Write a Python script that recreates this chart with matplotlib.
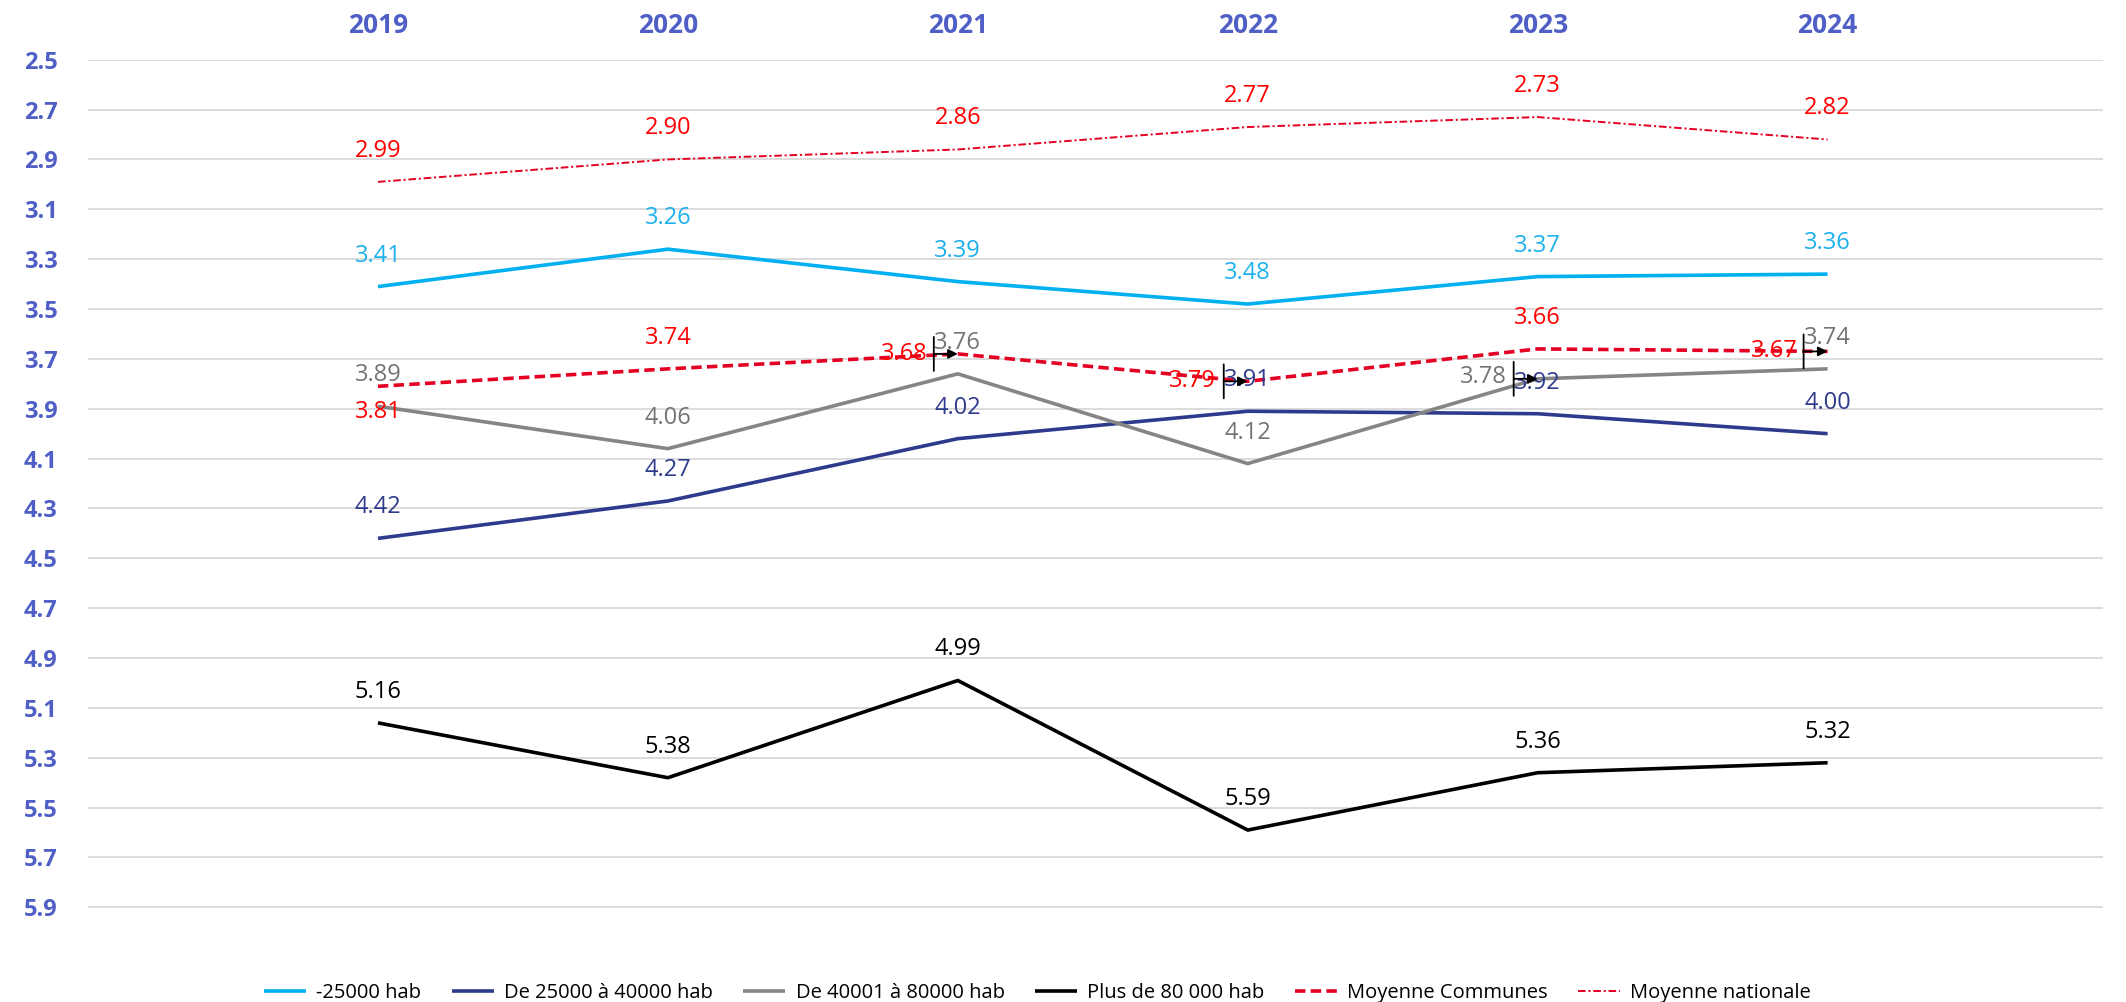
import matplotlib
matplotlib.use('Agg')
import matplotlib.pyplot as plt
from matplotlib.transforms import offset_copy

plt.rcParams['font.family'] = ['Open Sans', 'DejaVu Sans']
plt.rcParams['lines.scale_dashes'] = False

years = ['2019', '2020', '2021', '2022', '2023', '2024']
moins_25000 = [3.41, 3.26, 3.39, 3.48, 3.37, 3.36]
de_25000_40000 = [4.42, 4.27, 4.02, 3.91, 3.92, 4.00]
de_40001_80000 = [3.89, 4.06, 3.76, 4.12, 3.78, 3.74]
plus_80000 = [5.16, 5.38, 4.99, 5.59, 5.36, 5.32]
moyenne_communes = [3.81, 3.74, 3.68, 3.79, 3.66, 3.67]
moyenne_nationale = [2.99, 2.90, 2.86, 2.77, 2.73, 2.82]
y_ticks = [2.5, 2.7, 2.9, 3.1, 3.3, 3.5, 3.7, 3.9, 4.1, 4.3, 4.5, 4.7, 4.9, 5.1, 5.3, 5.5, 5.7, 5.9]

series = [
    ('-25000 hab', moins_25000, dict(color='#00B0F0', lw=2.6), '#1CB0EC'),
    ('De 25000 à 40000 hab', de_25000_40000, dict(color='#2E3B8C', lw=2.6), '#2E3B8C'),
    ('De 40001 à 80000 hab', de_40001_80000, dict(color='#858585', lw=2.6), '#737373'),
    ('Plus de 80 000 hab', plus_80000, dict(color='#000000', lw=2.6), '#000000'),
    ('Moyenne Communes', moyenne_communes, dict(color='#E30022', lw=2.6, dashes=(7.5, 3.8)), '#FF0000'),
    ('Moyenne nationale', moyenne_nationale, dict(color='#E30022', lw=1.4, dashes=(5.5, 2.0, 1.5, 2.0)), '#FF0000'),
]

# label offsets in pixels (default: centred above the point)
special = {
    ('Moyenne Communes', 0): (0, -26, False),
    ('Moyenne Communes', 2): (-53, 0, True),
    ('Moyenne Communes', 3): (-55, 0, True),
    ('De 40001 à 80000 hab', 4): (-54, 2, True),
    ('Moyenne Communes', 5): (-53, 0, True),
}

tick_color = '#4F5FC6'

fig = plt.figure(figsize=(21.26, 10.02), dpi=100)
ax = fig.add_axes([0.0414, 0.0447, 0.9478, 0.8957])
x = list(range(len(years)))

for name, vals, style, lc in series:
    ax.plot(x, vals, label=name, solid_capstyle='butt', **style)

ax.set_xlim(-1.0, 5.95)
ax.set_ylim(6.1, 2.5)
ax.set_yticks(y_ticks)
ax.set_yticklabels([f'{v:.1f}' for v in y_ticks])
ax.set_xticks(x)
ax.set_xticklabels(years)
ax.xaxis.tick_top()
ax.tick_params(axis='both', length=0)
ax.tick_params(axis='y', pad=22, labelsize=17, labelcolor=tick_color)
ax.tick_params(axis='x', pad=15, labelsize=19, labelcolor=tick_color)
for lab in ax.get_xticklabels() + ax.get_yticklabels():
    lab.set_fontweight('bold')
for sp in ax.spines.values():
    sp.set_visible(False)
ax.grid(axis='y', color='#DCDCDC', lw=1.4)
ax.set_axisbelow(True)

for name, vals, style, lc in series:
    for i, v in enumerate(vals):
        dx, dy, leader = special.get((name, i), (0, 31, False))
        ax.annotate(f'{v:.2f}', xy=(i, v), xytext=(dx, dy), textcoords='offset pixels',
                    ha='center', va='center', fontsize=17, color=lc, zorder=5)
        if leader:
            t1 = offset_copy(ax.transData, fig=fig, x=-24, y=-17, units='dots')
            t2 = offset_copy(ax.transData, fig=fig, x=-24, y=17, units='dots')
            ax.annotate('', xy=(i, v), xycoords=t1, xytext=(i, v), textcoords=t2,
                        arrowprops=dict(arrowstyle='-', color='black', lw=1.3,
                                        shrinkA=0, shrinkB=0), zorder=6)
            ax.annotate('', xy=(i, v), xycoords='data', xytext=(-24, 0),
                        textcoords='offset pixels',
                        arrowprops=dict(arrowstyle='-|>', color='black', lw=1.3,
                                        shrinkA=0, shrinkB=0, mutation_scale=14), zorder=6)

fig.legend(loc='center', bbox_to_anchor=(0.488, 0.009), ncol=6, frameon=False,
           fontsize=14.5, handlelength=2.1, handletextpad=0.5, columnspacing=1.5)

fig.savefig('out.png', dpi=100)
